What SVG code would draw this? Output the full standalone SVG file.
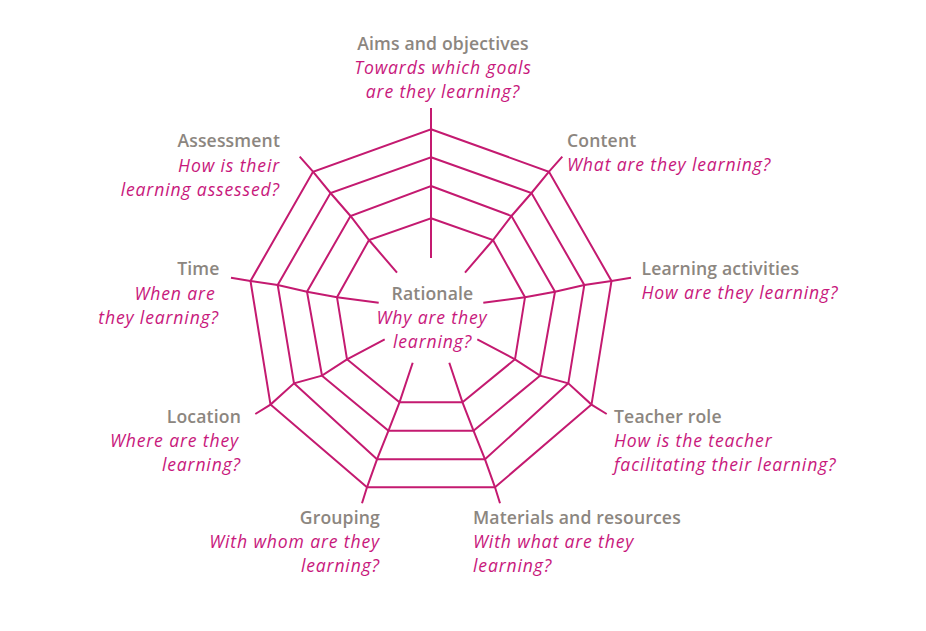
<svg xmlns="http://www.w3.org/2000/svg" width="926" height="631" viewBox="0 0 926 631">
<style>
.web{fill:none;stroke:#c41a70;stroke-width:2;stroke-linejoin:miter}
.t{font-family:"Open Sans",Lato,sans-serif;font-size:17.6px;font-weight:600;letter-spacing:0.15px;fill:#8c8680}
.q{font-family:"Open Sans",Lato,sans-serif;font-size:17.6px;font-style:italic;letter-spacing:0.85px;fill:#c8187c}
.m{text-anchor:middle}.e{text-anchor:end}
</style>
<rect width="926" height="631" fill="#fff"/>
<g id="connectors" class="web">
<polygon points="431,129.3 549,171.7 611.5,281 591.5,404.6 495,487.3 367,487.3 270.5,404.6 250.5,281 313,171.7"/>
<polygon points="431,157.3 531.5,193 584.3,285 568.3,383.3 485,459.3 377,459.3 294,383.3 277.7,285 330.5,193"/>
<polygon points="431,186 511.5,216 555,291.7 540,375.7 473.5,430.7 388.5,430.7 322,375.7 307,291.7 350.5,216"/>
<polygon points="431,218.3 493,240 525,297.3 515,359.3 462.5,402.3 399.5,402.3 347,359.3 337,297.3 369,240"/>
<polyline points="431,258 431,108"/>
<polyline points="465,272.7 493,240 511.5,216 531.5,193 549,171.7 562.3,156.7"/>
<polyline points="483.3,302.7 525,297.3 555,291.7 584.3,285 611.5,281 631,277.7"/>
<polyline points="477.3,339.3 515,359.3 540,375.7 568.3,383.3 591.5,404.6 606.7,414"/>
<polyline points="449.3,362.7 462.5,402.3 473.5,430.7 485,459.3 495,487.3 500,503.3"/>
<polyline points="412.7,362.7 399.5,402.3 388.5,430.7 377,459.3 367,487.3 362,503.3"/>
<polyline points="384.7,339.3 347,359.3 322,375.7 294,383.3 270.5,404.6 255.3,414"/>
<polyline points="378.7,302.7 337,297.3 307,291.7 277.7,285 250.5,281 231,277.7"/>
<polyline points="397,272.7 369,240 350.5,216 330.5,193 313,171.7 299.7,156.7"/>
</g>
<g id="aims"><text class="t m" x="443" y="50">Aims and objectives</text><text class="q m" x="443" y="74">Towards which goals</text><text class="q m" x="443" y="98">are they learning?</text></g>
<g id="content"><text class="t" x="567" y="147">Content</text><text class="q" x="567" y="171">What are they learning?</text></g>
<g id="learning-activities"><text class="t" x="641.5" y="275">Learning activities</text><text class="q" x="641.5" y="299">How are they learning?</text></g>
<g id="teacher-role"><text class="t" x="614" y="422.5">Teacher role</text><text class="q" x="614" y="447">How is the teacher</text><text class="q" x="614" y="471">facilitating their learning?</text></g>
<g id="materials"><text class="t" x="473" y="523.5">Materials and resources</text><text class="q" x="473" y="547.5">With what are they</text><text class="q" x="473" y="571.5">learning?</text></g>
<g id="grouping"><text class="t e" x="380" y="524">Grouping</text><text class="q e" x="380" y="548">With whom are they</text><text class="q e" x="380" y="572">learning?</text></g>
<g id="location"><text class="t e" x="241" y="422.5">Location</text><text class="q e" x="239" y="446.5">Where are they</text><text class="q e" x="241" y="470.5">learning?</text></g>
<g id="time"><text class="t e" x="219.5" y="275">Time</text><text class="q e" x="215.5" y="299.5">When are</text><text class="q e" x="219" y="323.5">they learning?</text></g>
<g id="assessment"><text class="t e" x="280" y="147">Assessment</text><text class="q e" x="280" y="171.5">How is their</text><text class="q e" x="280" y="195.5">learning assessed?</text></g>
<g id="rationale"><text class="t m" x="432.5" y="300">Rationale</text><text class="q m" x="432" y="324">Why are they</text><text class="q m" x="432.5" y="348">learning?</text></g>
</svg>
